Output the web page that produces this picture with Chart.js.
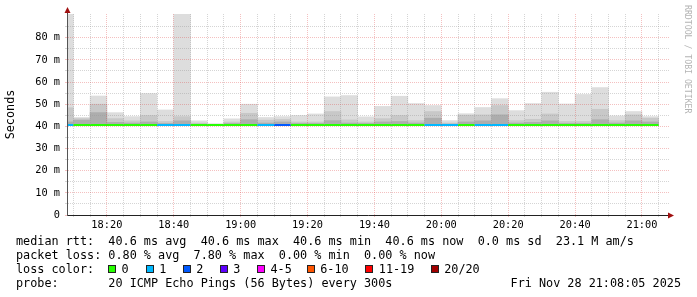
<!DOCTYPE html>
<html>
<head>
<meta charset="utf-8">
<script src="https://cdn.jsdelivr.net/npm/chart.js@4.4.1/dist/chart.umd.min.js"></script>
<style>
  html, body { margin: 0; padding: 0; background: #fff; }
  #wrap { position: relative; width: 697px; height: 297px; overflow: hidden; }
  #chart { position: absolute; left: 0; top: 0; }
  .row { position: absolute; left: 16px; font: 11.8px 'DejaVu Sans Mono', monospace; line-height: 14px; white-space: pre; color: #000; }
  .box { position: absolute; top: 265px; width: 6px; height: 6px; border: 1px solid #222; }
  .mark { position: absolute; top: 5px; left: 683px; writing-mode: vertical-rl; font: 8.2px 'DejaVu Sans Mono', monospace; color: #b4b4b4; white-space: pre; }
</style>
</head>
<body>
<div id="wrap">
  <canvas id="chart" width="697" height="297"></canvas>
  <div class="mark">RRDTOOL / TOBI OETIKER</div>
  <div class="row" style="top:234px">median rtt:  40.6 ms avg  40.6 ms max  40.6 ms min  40.6 ms now  0.0 ms sd  23.1 M am/s</div>
  <div class="row" style="top:248px">packet loss: 0.80 % avg  7.80 % max  0.00 % min  0.00 % now</div>
  <div class="row" style="top:262px">loss color:</div>
  <div class="row" style="top:276px">probe:       20 ICMP Echo Pings (56 Bytes) every 300s</div>
  <div class="row" style="top:276px; left:auto; right:16px">Fri Nov 28 21:08:05 2025</div>
</div>
<script>
// 5 minute bins, labelled by their end time
const binEnds = [
  "18:10", "18:15", "18:20", "18:25", "18:30", "18:35", "18:40", "18:45", "18:50", "18:55",
  "19:00", "19:05", "19:10", "19:15", "19:20", "19:25", "19:30", "19:35", "19:40", "19:45", "19:50", "19:55",
  "20:00", "20:05", "20:10", "20:15", "20:20", "20:25", "20:30", "20:35", "20:40", "20:45", "20:50", "20:55",
  "21:00", "21:05"
];

const medianMs = [
  40.6, 40.6, 40.6, 40.6, 40.6, 40.6, 40.6, 40.6, 40.6, 40.6, 40.6, 40.6,
  40.6, 40.6, 40.6, 40.6, 40.6, 40.6, 40.6, 40.6, 40.6, 40.6, 40.6, 40.6,
  40.6, 40.6, 40.6, 40.6, 40.6, 40.6, 40.6, 40.6, 40.6, 40.6, 40.6, 40.6
];

// smoke: spread of the 20 pings in each bin
const smokeMin = [
  40.5, 40.5, 40.5, 40.5, 40.5, 40.5, 40.5, 40.5, 40.5, 40.5, 40.5, 40.5,
  40.5, 40.5, 40.5, 40.5, 40.5, 40.5, 40.5, 40.5, 40.5, 40.5, 40.5, 40.5,
  40.5, 40.5, 40.5, 40.5, 40.5, 40.5, 40.5, 40.5, 40.5, 40.5, 40.5, 40.5
];
const smokeInner = [
  42.0, 42.8, 46.2, 41.8, 41.5, 42.0, 41.3, 42.5, 41.0, 40.8, 41.3, 43.0,
  41.5, 42.0, 41.3, 41.3, 42.6, 41.5, 41.3, 42.0, 42.2, 41.5, 43.7, 41.0,
  42.0, 42.5, 45.2, 41.5, 41.8, 42.5, 41.3, 41.3, 43.0, 41.5, 42.5, 42.0
];
const smokeUpper = [
  48.4, 43.5, 50.0, 43.5, 42.5, 44.9, 42.2, 44.4, 41.5, 40.9, 42.0, 45.9,
  42.8, 43.1, 42.0, 42.0, 46.7, 42.9, 42.0, 43.5, 44.9, 42.6, 46.7, 41.5,
  45.0, 45.2, 49.4, 42.6, 43.2, 45.6, 42.2, 42.2, 47.7, 42.6, 45.2, 43.7
];
const smokeMax = [
  96.0, 44.0, 53.7, 46.2, 44.4, 54.8, 47.4, 96.0, 42.5, 41.2, 43.4, 50.0,
  44.0, 44.4, 44.9, 45.6, 53.3, 53.9, 44.3, 49.0, 53.6, 50.3, 49.4, 42.6,
  45.7, 48.5, 52.5, 47.1, 50.3, 55.4, 50.1, 54.4, 57.5, 44.7, 46.7, 44.4
];

// lost pings (of 20) per bin
const lossPings = [
  1, 0, 0, 0, 0, 0, 1, 1, 0, 0, 0, 0,
  1, 2, 0, 0, 0, 0, 0, 0, 0, 0, 1, 1,
  0, 1, 1, 0, 0, 0, 0, 0, 0, 0, 0, 0
];

const lossLimits = [0, 1, 2, 3, 5, 10, 19, 20];
const lossLabels = ["0", "1", "2", "3", "4-5", "6-10", "11-19", "20/20"];
const lossColors = ["#26ff00", "#00b8ff", "#0059ff", "#5e00ff", "#ff00ff", "#ff5500", "#ff0000", "#a10000"];

const yGrid = [0, 5, 10, 15, 20, 25, 30, 35, 40, 45, 50, 55, 60, 65, 70, 75, 80, 85];
const viewStart = "18:08:05";
const viewEnd = "21:08:05";

const GRID = "rgba(150,150,150,0.4)";
const MGRID = "rgba(220,60,60,0.32)";
const STEP = 5;

function toMinutes(t) {
  const p = t.split(":").map(Number);
  return (p[0] - 18) * 60 + p[1] + (p[2] || 0) / 60;
}
function fmt(v) {
  const h = 18 + Math.floor(v / 60);
  const m = Math.round(v % 60);
  return h + ":" + String(m).padStart(2, "0");
}
function lossColor(n) {
  return lossColors[lossLimits.findIndex(l => n <= l)];
}

const ends = binEnds.map(toMinutes);

function smokeLayer(tops, color, order) {
  return {
    type: "bar",
    data: ends.map((e, i) => ({ x: e - STEP / 2, y: [smokeMin[i], tops[i]] })),
    backgroundColor: color,
    borderWidth: 0,
    grouped: false,
    barPercentage: 1,
    categoryPercentage: 1,
    clip: 0,
    order: order,
  };
}

const medianPts = ends.map((e, i) => ({ x: e - STEP, y: medianMs[i] }));
medianPts.push({ x: ends[ends.length - 1], y: medianMs[medianMs.length - 1] });

// legend boxes for loss colours
const legendBoxX = [108, 145.7, 182.7, 219.7, 257, 306.7, 365.3, 430.7];
const wrap = document.getElementById("wrap");
lossLabels.forEach((lab, i) => {
  const b = document.createElement("div");
  b.className = "box";
  b.style.left = legendBoxX[i] + "px";
  b.style.background = lossColors[i];
  wrap.appendChild(b);
  const t = document.createElement("div");
  t.className = "row";
  t.style.top = "262px";
  t.style.left = (legendBoxX[i] + 13.5) + "px";
  t.textContent = lab;
  wrap.appendChild(t);
});

const axisArrows = {
  id: "axisArrows",
  afterDraw(chart) {
    const { ctx, chartArea: a } = chart;
    ctx.save();
    ctx.strokeStyle = "#444";
    ctx.lineWidth = 1;
    ctx.beginPath();
    ctx.moveTo(a.left + 0.5, a.top);
    ctx.lineTo(a.left + 0.5, a.top - 3);
    ctx.moveTo(a.right, a.bottom + 0.5);
    ctx.lineTo(a.right + 2, a.bottom + 0.5);
    ctx.stroke();
    ctx.fillStyle = "#a01010";
    ctx.beginPath();
    ctx.moveTo(a.left + 0.5, a.top - 7);
    ctx.lineTo(a.left - 2.5, a.top - 1);
    ctx.lineTo(a.left + 3.5, a.top - 1);
    ctx.closePath();
    ctx.fill();
    ctx.beginPath();
    ctx.moveTo(a.right + 5, a.bottom + 0.5);
    ctx.lineTo(a.right - 1, a.bottom - 2.5);
    ctx.lineTo(a.right - 1, a.bottom + 3.5);
    ctx.closePath();
    ctx.fill();
    ctx.restore();
  }
};

Chart.defaults.font.family = "'DejaVu Sans Mono', monospace";

new Chart(document.getElementById("chart"), {
  type: "bar",
  data: {
    datasets: [
      {
        type: "line",
        data: medianPts,
        stepped: "after",
        borderWidth: 2,
        borderColor: lossColor(0),
        segment: { borderColor: c => lossColor(lossPings[c.p0DataIndex]) },
        pointRadius: 0,
        fill: false,
        clip: 0,
        order: 0,
      },
      smokeLayer(smokeInner, "#adadad", 1),
      smokeLayer(smokeUpper, "#c8c8c8", 2),
      smokeLayer(smokeMax, "#dddddd", 3),
    ],
  },
  options: {
    responsive: false,
    animation: false,
    events: [],
    layout: { padding: { top: 14, right: 28, left: 0, bottom: 0 } },
    plugins: { legend: { display: false }, tooltip: { enabled: false } },
    scales: {
      x: {
        type: "linear",
        min: toMinutes(viewStart),
        max: toMinutes(viewEnd),
        offset: false,
        afterBuildTicks: s => { s.ticks = ends.map(v => ({ value: v })); },
        afterFit: s => { s.height = 82; },
        grid: { offset: false, z: 1, tickLength: 2, color: c => (c.tick && c.tick.value % 20 === 0) ? MGRID : GRID },
        border: { color: "#222", dash: [1, 1], z: 2 },
        ticks: { autoSkip: false, maxRotation: 0, padding: 2, color: "#000", font: { size: 10.3 },
          callback: v => v % 20 === 0 ? fmt(v) : "" },
      },
      y: {
        min: 0,
        max: 90.7,
        afterBuildTicks: s => { s.ticks = yGrid.map(v => ({ value: v })); },
        afterFit: s => { s.width = 67; },
        grid: { z: 1, tickLength: 2, color: c => (c.tick && c.tick.value % 10 === 0) ? MGRID : GRID },
        border: { color: "#555", dash: [1, 1], z: 2 },
        ticks: { autoSkip: false, padding: 5, color: "#000", font: { size: 10.3 },
          callback: v => v === 0 ? "0" : (v % 10 === 0 ? v + " m" : "") },
        title: { display: true, text: "Seconds", color: "#000", font: { size: 11.8 }, padding: { top: 4, bottom: 4 } },
      },
    },
  },
  plugins: [axisArrows],
});
</script>
</body>
</html>
